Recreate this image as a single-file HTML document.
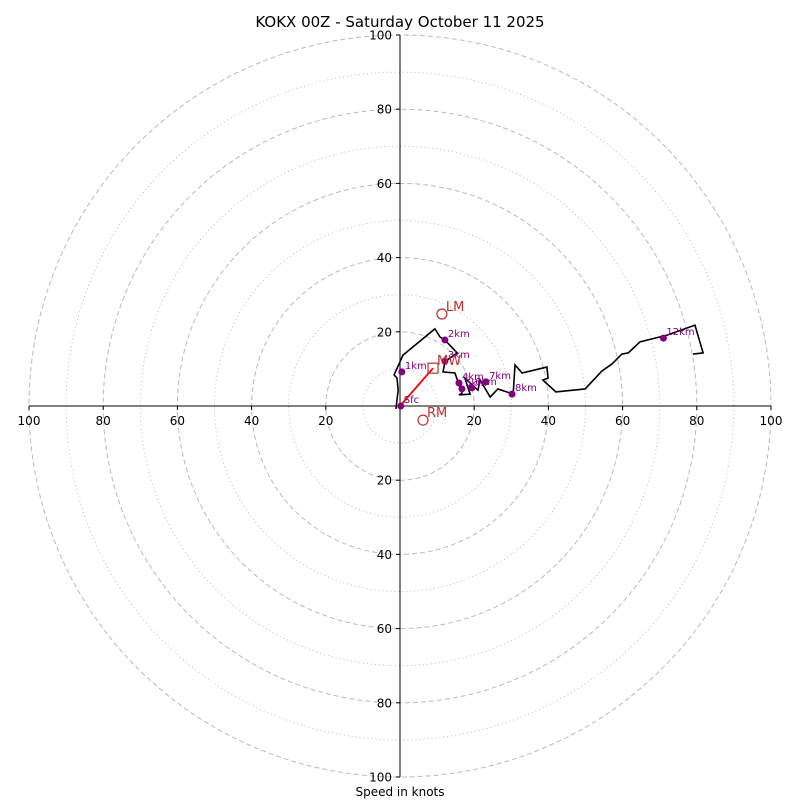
<!DOCTYPE html>
<html><head><meta charset="utf-8"><style>
body{margin:0;background:#fff}
svg{display:block;font-family:"DejaVu Sans","Liberation Sans",sans-serif}
</style></head><body>
<svg id="chart" width="800" height="800">
<text x="400" y="27" text-anchor="middle" font-size="15">KOKX 00Z - Saturday October 11 2025</text>
<text x="400" y="796" text-anchor="middle" font-size="12">Speed in knots</text>
<g id="grid"></g><g id="axes"></g><g id="series"></g>
</svg>
<script>
const ringValues=[10,20,30,40,50,60,70,80,90,100];
const tickValues=[20,40,60,80,100];
const pathU=[-1.1,-0.5,-0.8,-1.6,-0.5,0.8,9.4,10.8,12.1,15.4,12.1,11.6,14.8,16.7,15.9,18.9,17.5,21,21.6,24.3,26.4,30.5,31,32.9,39.6,39.9,38.5,42,49.9,54.4,57.1,59.8,61.5,64.7,72,79.5,81.7,79];
const pathV=[-0.8,4.3,7.5,8.4,10.8,13.7,20.8,18.6,17.8,14.3,11.9,9.2,8.9,3.5,3.0,3.2,7.5,4.3,7.0,2.4,4.6,3.2,11.1,8.9,10.5,7.5,7.0,3.8,4.6,9.4,11.3,14.0,14.3,17.3,19.1,21.8,14.3,14.0];
const dotLabels=["Sfc","1km","2km","3km","4km","5km","6km","7km","8km","12km"];
const dotU=[0.2,0.5,12.1,12.1,15.9,16.7,19.4,23.2,30.2,71];
const dotV=[0,9.2,17.8,12.1,6.2,4.6,4.9,6.5,3.2,18.3];
const motionNames=["LM","MW","RM"];
const motionU=[11.3,8.9,6.2];
const motionV=[24.8,10.2,-3.8];
const cx=400,cy=406,k=3.71;
const X=u=>cx+u*k, Y=v=>cy-v*k;
const NS="http://www.w3.org/2000/svg";
function mk(p,t,a){const e=document.createElementNS(NS,t);for(const n in a)e.setAttribute(n,a[n]);p.appendChild(e);return e;}
const grid=document.getElementById('grid'),axes=document.getElementById('axes'),ser=document.getElementById('series');
ringValues.forEach(r=>{
 const c=mk(grid,'circle',{cx:cx,cy:cy,r:r*k,fill:'none',stroke:'#bbb','stroke-width':1,'stroke-dasharray':r%20==0?'5,3':'1,3'});
 
 
});
let l=mk(axes,'line',{x1:X(-100),y1:cy,x2:X(100),y2:cy,stroke:'#000'});


l=mk(axes,'line',{x1:cx,y1:Y(100),x2:cx,y2:Y(-100),stroke:'#000'});


tickValues.forEach(t=>{
 [t,-t].forEach(s=>{
  mk(axes,'line',{x1:X(s),y1:cy,x2:X(s),y2:cy+4,stroke:'#000'});
  const tx=mk(axes,'text',{x:X(s),y:cy+19,'text-anchor':'middle','font-size':12});
  tx.textContent=t;
  
  
  mk(axes,'line',{x1:cx-4,y1:Y(s),x2:cx,y2:Y(s),stroke:'#000'});
  const ty=mk(axes,'text',{x:cx-8,y:Y(s)+4.5,'text-anchor':'end','font-size':12});
  ty.textContent=t;
  
  
 });
});
const pl=mk(ser,'polyline',{points:pathU.map((u,i)=>X(u)+','+Y(pathV[i])).join(' '),fill:'none',stroke:'#000','stroke-width':1.6});


const ar=mk(ser,'line',{x1:X(0),y1:Y(0),x2:X(motionU[1]),y2:Y(motionV[1]),stroke:'red','stroke-width':1.8});


dotU.forEach((u,i)=>{
 const d=mk(ser,'circle',{cx:X(u),cy:Y(dotV[i]),r:3.5,fill:'purple'});
 
 
 const t=mk(ser,'text',{x:X(u)+3,y:Y(dotV[i])-3,'font-size':10,fill:'purple'});
 t.textContent=dotLabels[i];
 
 
});
motionNames.forEach((n,i)=>{
 const x=X(motionU[i]),y=Y(motionV[i]);
 let m;
 if(n==='MW') m=mk(ser,'rect',{x:x-5,y:y-5,width:10,height:10,fill:'none',stroke:'#c03030','stroke-width':1.2});
 else m=mk(ser,'circle',{cx:x,cy:y,r:5,fill:'none',stroke:'#c03030','stroke-width':1.2});
 
 
 const t=mk(ser,'text',{x:x+4,y:y-3,'font-size':13,fill:'#c03030'});
 t.textContent=n;
 
 
});
</script>
</body></html>
